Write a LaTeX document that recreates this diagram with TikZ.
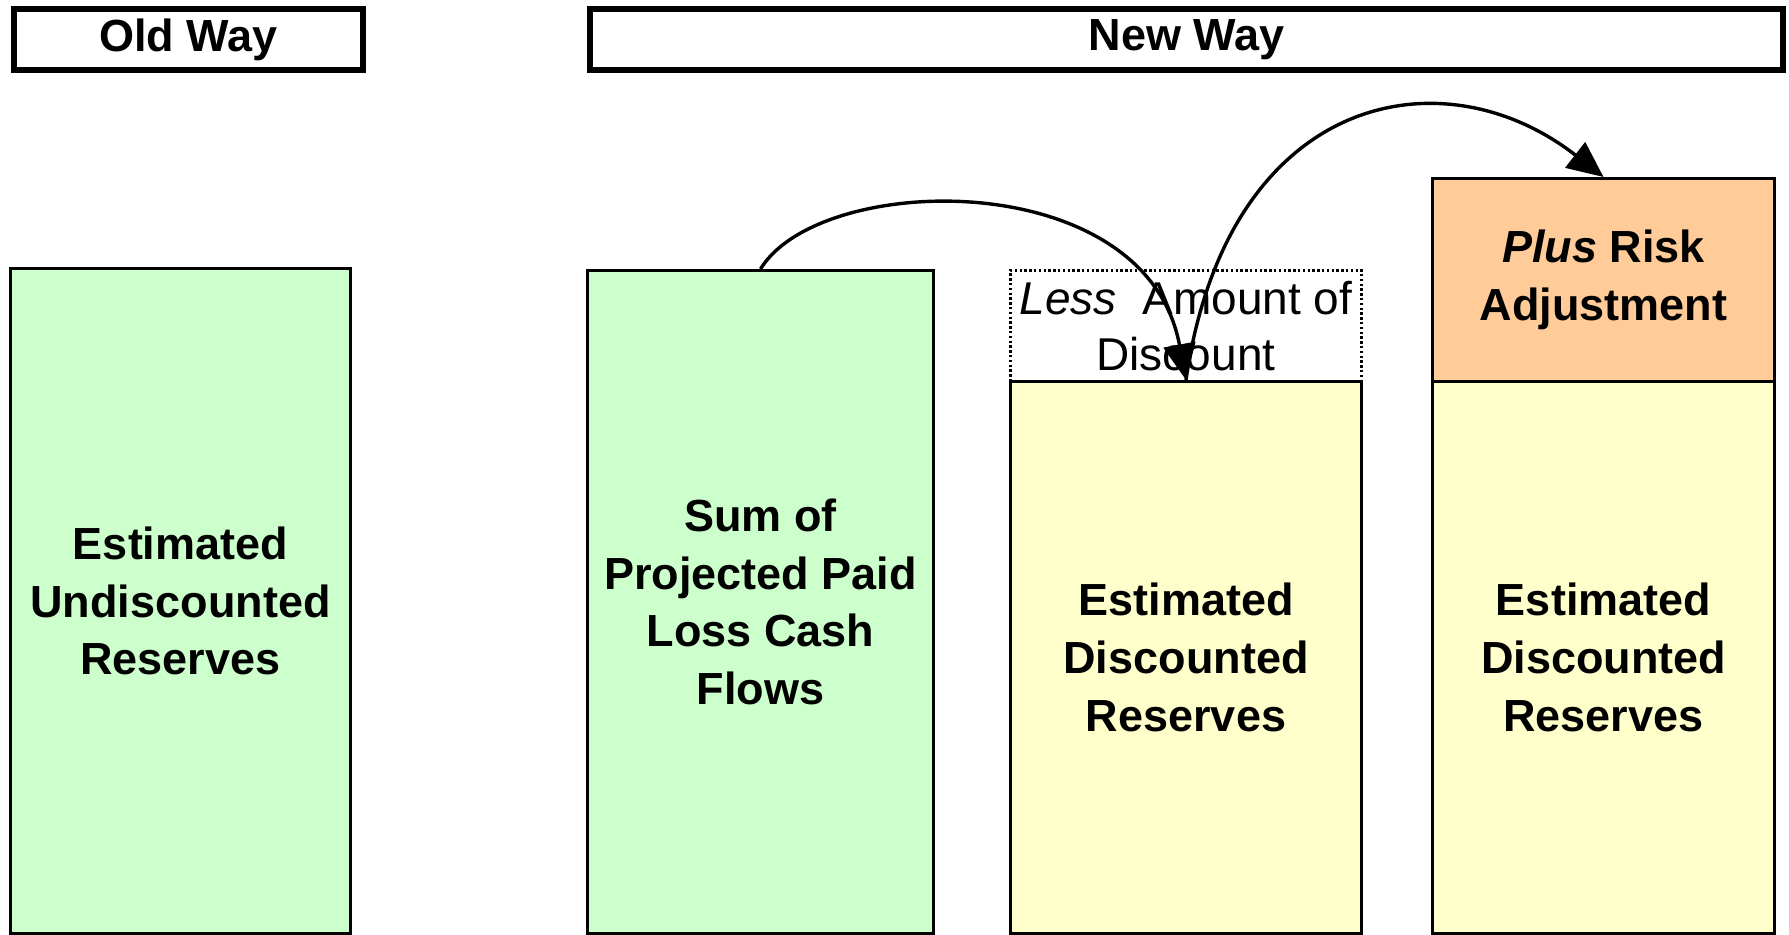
\documentclass[tikz,border=0pt]{standalone}
\usepackage{fontspec}
\setmainfont{Liberation Sans}
\usetikzlibrary{arrows.meta}
\definecolor{boxgreen}{HTML}{CCFFCC}
\definecolor{boxyellow}{HTML}{FFFFCC}
\definecolor{boxorange}{HTML}{FFCC99}
\begin{document}
\begin{tikzpicture}[x=0.5pt,y=-0.5pt,
  titlebox/.style={draw=black,line width=3pt,anchor=north west,inner sep=0pt,
    font=\fontsize{22.5}{28.8}\selectfont\bfseries},
  colbox/.style={draw=black,line width=1.5pt,anchor=north west,inner sep=0pt,align=center,
    font=\fontsize{22.5}{28.8}\selectfont\bfseries},
  dotbox/.style={draw=black,line width=1.5pt,dash pattern=on 1.2pt off 1.2pt,anchor=north west,inner sep=0pt,align=center,
    font=\fontsize{23}{28}\selectfont},
  link/.style={line width=1.7pt,-{Triangle[length=18pt,width=16pt]}}
]
\useasboundingbox (0,0) rectangle (1789,935);

\node[titlebox,minimum width=174.5pt,minimum height=30.5pt] (oldT) at (11,6) {Old Way};
\node[titlebox,minimum width=596.5pt,minimum height=30.5pt] (newT) at (587,6) {New Way};

\node[colbox,fill=boxgreen,minimum width=170pt,minimum height=332.5pt] (old) at (9,267)
  {Estimated\\Undiscounted\\Reserves};
\node[colbox,fill=boxgreen,minimum width=173pt,minimum height=331.5pt] (sum) at (586,269)
  {Sum of\\Projected Paid\\Loss Cash\\Flows};
\node[dotbox,minimum width=175.5pt,minimum height=55.5pt] (less) at (1009,269)
  {\textit{Less}\ \ Amount of\\Discount};
\node[colbox,fill=boxyellow,minimum width=175.5pt,minimum height=276pt] (disc) at (1009,380)
  {Estimated\\Discounted\\Reserves};
\node[colbox,fill=boxorange,minimum width=171pt,minimum height=101.5pt] (plus) at (1431,177)
  {\textit{Plus} Risk\\Adjustment};
\node[colbox,fill=boxyellow,minimum width=171pt,minimum height=276pt] (disc2) at (1431,380)
  {Estimated\\Discounted\\Reserves};

\draw[link] (sum.north) .. controls +(60,-98) and +(-40,-215) .. (disc.north);
\draw[link] (disc.north) .. controls +(41,-285) and +(-163,-127) .. (plus.north);
\end{tikzpicture}
\end{document}
